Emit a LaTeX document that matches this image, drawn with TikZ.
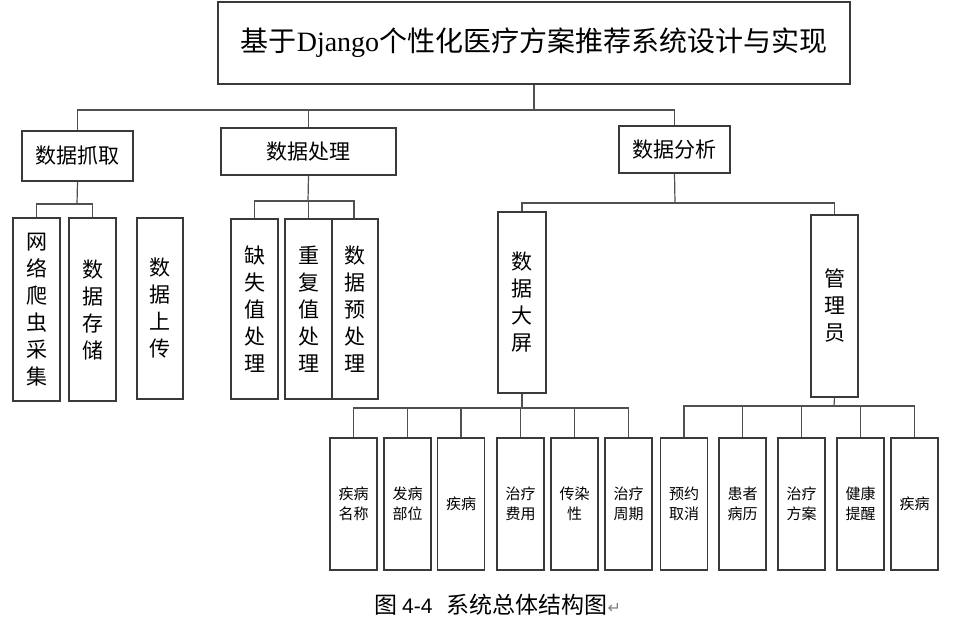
\documentclass[tikz,border=0pt]{standalone}
\usepackage{fontspec}
\setmainfont{Liberation Serif}
\newfontfamily\cjk{Noto Sans CJK SC}
\newfontfamily\lsans{Liberation Sans}
\newfontfamily\djv{DejaVu Sans}
\definecolor{boxc}{HTML}{3A3A3A}
\definecolor{linec}{HTML}{505050}
\tikzset{
  bx/.style={draw=boxc, line width=1.2pt, inner sep=0pt, align=center, fill=white},
  vbox/.style={bx, minimum width=47pt, font=\cjk\fontsize{21}{27}\selectfont},
  leaf/.style={bx, minimum width=47pt, minimum height=132pt, font=\cjk\fontsize{15}{20}\selectfont},
  conn/.style={draw=linec, line width=1.2pt},
}
\begin{document}
\begin{tikzpicture}[x=1pt,y=-1pt]
\useasboundingbox (0,0) rectangle (964,622);
% coordinates for bars
\coordinate (b0) at (534,110);
\coordinate (bg) at (77,204);
\coordinate (bp) at (308,201);
\coordinate (ba) at (675,203);
\coordinate (bb) at (522,408);
\coordinate (bm) at (834,406);
\node[bx, minimum width=632pt, minimum height=82pt, font=\fontsize{28}{30}\selectfont] (title) at (534,43)
  {{\cjk 基于}Django{\cjk 个性化医疗方案推荐系统设计与实现}};
\node[bx, minimum width=111pt, minimum height=50pt, font=\cjk\fontsize{21}{24}\selectfont] (grab) at (77.5,156) {数据抓取};
\node[bx, minimum width=175pt, minimum height=47pt, font=\cjk\fontsize{21}{24}\selectfont] (proc) at (308.5,151.5) {数据处理};
\node[bx, minimum width=111pt, minimum height=47pt, font=\cjk\fontsize{21}{24}\selectfont] (anal) at (674.5,149.5) {数据分析};
\node[vbox, minimum height=183pt] (n1) at (36.5,309.5) {网\\络\\爬\\虫\\采\\集};
\node[vbox, minimum height=183pt] (n2) at (92.5,309.5) {数\\据\\存\\储};
\node[vbox, minimum height=181pt, minimum width=46pt] (n3) at (160,308.5) {数\\据\\上\\传};
\node[vbox, minimum height=180pt] (m1) at (254.5,309) {缺\\失\\值\\处\\理};
\node[vbox, minimum height=180pt] (m2) at (308.5,309) {重\\复\\值\\处\\理};
\node[vbox, minimum height=180pt, minimum width=46pt] (m3) at (355,309) {数\\据\\预\\处\\理};
\node[vbox, minimum height=181pt, minimum width=48pt] (big) at (522,302.5) {数\\据\\大\\屏};
\node[vbox, minimum height=182pt] (adm) at (834.5,306) {管\\理\\员};
\node[leaf] (l1) at (353.5,504) {疾病\\名称};
\node[leaf] (l2) at (407.5,504) {发病\\部位};
\node[leaf] (l3) at (461,504) {疾病};
\node[leaf] (l4) at (520.5,504) {治疗\\费用};
\node[leaf] (l5) at (574.5,504) {传染\\性};
\node[leaf] (l6) at (628.5,504) {治疗\\周期};
\node[leaf] (r1) at (684,504) {预约\\取消};
\node[leaf] (r2) at (742.5,504) {患者\\病历};
\node[leaf] (r3) at (801.5,504) {治疗\\方案};
\node[leaf] (r4) at (860.5,504) {健康\\提醒};
\node[leaf] (r5) at (914.5,504) {疾病};
% connectors
\draw[conn] (title.south) -- (b0);
\draw[conn] (b0) -| (grab.north);
\draw[conn] (b0) -| (proc.north);
\draw[conn] (b0) -| (anal.north);
\draw[conn] (grab.south) -- (bg);
\draw[conn] (bg) -| (n1.north);
\draw[conn] (bg) -| (n2.north);
\draw[conn] (proc.south) -- (bp);
\draw[conn] (bp) -| (m1.north);
\draw[conn] (bp) -| (m2.north);
\draw[conn] (bp) -| ([xshift=-1pt]m3.north);
\draw[conn] (anal.south) -- (ba);
\draw[conn] (ba) -| (big.north);
\draw[conn] (ba) -| (adm.north);
\draw[conn] (big.south) -- (bb);
\foreach \n in {l1,l2,l3,l4,l5,l6} \draw[conn] (bb) -| (\n.north);
\draw[conn] (adm.south) -- (bm);
\foreach \n in {r1,r2,r3,r4,r5} \draw[conn] (bm) -| (\n.north);
% caption
\node[inner sep=0pt, anchor=west, font=\fontsize{23}{26}\selectfont] (cap) at (374,605)
  {{\cjk 图}\hspace{5pt}{\lsans\fontsize{21}{24}\selectfont 4-4}\hspace{14pt}{\cjk 系统总体结构图}{\djv\fontsize{16}{18}\selectfont\color{gray}↵}};
\end{tikzpicture}
\end{document}
